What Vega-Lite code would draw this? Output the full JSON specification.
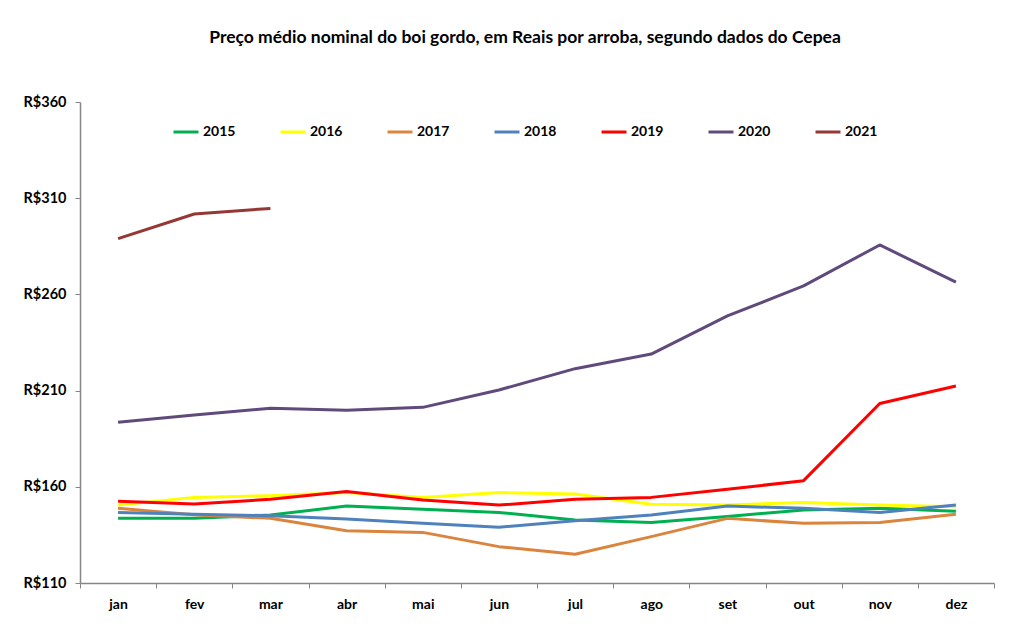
{
  "$schema": "https://vega.github.io/schema/vega-lite/v6.json",
  "autosize": "none",
  "width": 914,
  "height": 481,
  "padding": {"left": 80, "top": 102, "right": 18, "bottom": 48},
  "background": "white",
  "title": {
    "text": "Preço médio nominal do boi gordo, em Reais por arroba, segundo dados do Cepea",
    "font": "Lato",
    "fontSize": 17.5,
    "fontWeight": "bold",
    "color": "black",
    "anchor": "middle",
    "frame": "group",
    "dx": -12,
    "offset": 48
  },
  "data": {
    "values": [
      {"mes": "jan", "ano": "2015", "preco": 143.6}, {"mes": "fev", "ano": "2015", "preco": 143.6}, {"mes": "mar", "ano": "2015", "preco": 145.3}, {"mes": "abr", "ano": "2015", "preco": 150.0}, {"mes": "mai", "ano": "2015", "preco": 148.3}, {"mes": "jun", "ano": "2015", "preco": 146.7}, {"mes": "jul", "ano": "2015", "preco": 142.7}, {"mes": "ago", "ano": "2015", "preco": 141.5}, {"mes": "set", "ano": "2015", "preco": 144.6}, {"mes": "out", "ano": "2015", "preco": 148.0}, {"mes": "nov", "ano": "2015", "preco": 148.8}, {"mes": "dez", "ano": "2015", "preco": 147.3},
      {"mes": "jan", "ano": "2016", "preco": 150.5}, {"mes": "fev", "ano": "2016", "preco": 154.5}, {"mes": "mar", "ano": "2016", "preco": 155.4}, {"mes": "abr", "ano": "2016", "preco": 157.0}, {"mes": "mai", "ano": "2016", "preco": 154.5}, {"mes": "jun", "ano": "2016", "preco": 157.0}, {"mes": "jul", "ano": "2016", "preco": 156.3}, {"mes": "ago", "ano": "2016", "preco": 150.9}, {"mes": "set", "ano": "2016", "preco": 150.5}, {"mes": "out", "ano": "2016", "preco": 151.9}, {"mes": "nov", "ano": "2016", "preco": 150.5}, {"mes": "dez", "ano": "2016", "preco": 149.6},
      {"mes": "jan", "ano": "2017", "preco": 148.8}, {"mes": "fev", "ano": "2017", "preco": 145.5}, {"mes": "mar", "ano": "2017", "preco": 143.6}, {"mes": "abr", "ano": "2017", "preco": 137.2}, {"mes": "mai", "ano": "2017", "preco": 136.3}, {"mes": "jun", "ano": "2017", "preco": 128.9}, {"mes": "jul", "ano": "2017", "preco": 124.9}, {"mes": "ago", "ano": "2017", "preco": 134.1}, {"mes": "set", "ano": "2017", "preco": 143.6}, {"mes": "out", "ano": "2017", "preco": 141.0}, {"mes": "nov", "ano": "2017", "preco": 141.5}, {"mes": "dez", "ano": "2017", "preco": 145.7},
      {"mes": "jan", "ano": "2018", "preco": 146.7}, {"mes": "fev", "ano": "2018", "preco": 145.7}, {"mes": "mar", "ano": "2018", "preco": 145.0}, {"mes": "abr", "ano": "2018", "preco": 143.3}, {"mes": "mai", "ano": "2018", "preco": 141.0}, {"mes": "jun", "ano": "2018", "preco": 139.0}, {"mes": "jul", "ano": "2018", "preco": 142.4}, {"mes": "ago", "ano": "2018", "preco": 145.3}, {"mes": "set", "ano": "2018", "preco": 150.0}, {"mes": "out", "ano": "2018", "preco": 148.8}, {"mes": "nov", "ano": "2018", "preco": 146.7}, {"mes": "dez", "ano": "2018", "preco": 150.5},
      {"mes": "jan", "ano": "2019", "preco": 152.5}, {"mes": "fev", "ano": "2019", "preco": 151.1}, {"mes": "mar", "ano": "2019", "preco": 153.5}, {"mes": "abr", "ano": "2019", "preco": 157.5}, {"mes": "mai", "ano": "2019", "preco": 153.1}, {"mes": "jun", "ano": "2019", "preco": 150.5}, {"mes": "jul", "ano": "2019", "preco": 153.5}, {"mes": "ago", "ano": "2019", "preco": 154.5}, {"mes": "set", "ano": "2019", "preco": 158.7}, {"mes": "out", "ano": "2019", "preco": 163.2}, {"mes": "nov", "ano": "2019", "preco": 203.3}, {"mes": "dez", "ano": "2019", "preco": 212.4},
      {"mes": "jan", "ano": "2020", "preco": 193.5}, {"mes": "fev", "ano": "2020", "preco": 197.3}, {"mes": "mar", "ano": "2020", "preco": 200.8}, {"mes": "abr", "ano": "2020", "preco": 199.8}, {"mes": "mai", "ano": "2020", "preco": 201.3}, {"mes": "jun", "ano": "2020", "preco": 210.3}, {"mes": "jul", "ano": "2020", "preco": 221.4}, {"mes": "ago", "ano": "2020", "preco": 229.0}, {"mes": "set", "ano": "2020", "preco": 248.8}, {"mes": "out", "ano": "2020", "preco": 264.4}, {"mes": "nov", "ano": "2020", "preco": 285.7}, {"mes": "dez", "ano": "2020", "preco": 266.4},
      {"mes": "jan", "ano": "2021", "preco": 289.0}, {"mes": "fev", "ano": "2021", "preco": 301.8}, {"mes": "mar", "ano": "2021", "preco": 304.7}
    ]
  },
  "mark": {"type": "line", "strokeWidth": 3, "strokeJoin": "round"},
  "encoding": {
    "x": {
      "field": "mes",
      "type": "nominal",
      "sort": ["jan", "fev", "mar", "abr", "mai", "jun", "jul", "ago", "set", "out", "nov", "dez"],
      "scale": {"type": "band", "paddingInner": 0, "paddingOuter": 0},
      "axis": {
        "title": null,
        "labelAngle": 0,
        "tickBand": "extent",
        "domainColor": "#868686",
        "tickColor": "#868686",
        "tickSize": 5,
        "labelPadding": 9,
        "labelFont": "Lato",
        "labelFontSize": 14,
        "labelFontWeight": "bold",
        "labelColor": "black",
        "grid": false
      }
    },
    "y": {
      "field": "preco",
      "type": "quantitative",
      "scale": {"domain": [110, 360], "nice": false, "zero": false},
      "axis": {
        "title": null,
        "values": [110, 160, 210, 260, 310, 360],
        "labelExpr": "'R$' + datum.value",
        "domainColor": "#868686",
        "tickColor": "#868686",
        "tickSize": 5,
        "labelPadding": 9,
        "labelFont": "Lato",
        "labelFontSize": 14.5,
        "labelFontWeight": "bold",
        "labelColor": "black",
        "grid": false
      }
    },
    "color": {
      "field": "ano",
      "type": "nominal",
      "scale": {
        "domain": ["2015", "2016", "2017", "2018", "2019", "2020", "2021"],
        "range": ["#00B050", "#FFFF00", "#DB843D", "#4F81BD", "#FF0000", "#604A7B", "#953735"]
      },
      "legend": {
        "title": null,
        "orient": "none",
        "direction": "horizontal",
        "columns": 7,
        "legendX": 92,
        "legendY": 16,
        "symbolType": "stroke",
        "symbolSize": 625,
        "symbolStrokeWidth": 3,
        "labelOffset": 3,
        "columnPadding": 38,
        "labelFont": "Lato",
        "labelFontSize": 14,
        "labelFontWeight": "bold",
        "labelColor": "black"
      }
    }
  },
  "config": {
    "view": {"stroke": null},
    "axis": {"domainWidth": 1.5}
  }
}
